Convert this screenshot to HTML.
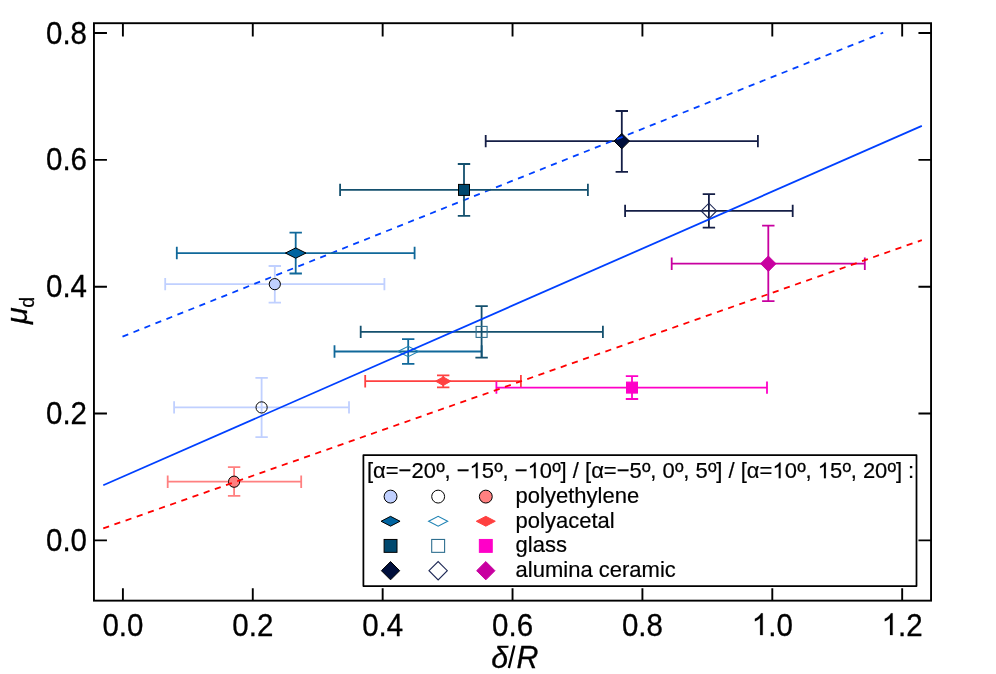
<!DOCTYPE html>
<html><head><meta charset="utf-8"><title>chart</title>
<style>
html,body{margin:0;padding:0;background:#fff;}
body{width:996px;height:674px;overflow:hidden;}
svg{display:block;transform:translateZ(0);will-change:transform;}
text{font-family:"Liberation Sans",sans-serif;fill:#000;}
.tk{font-size:29.5px;stroke:#000;stroke-width:0.3px;}
.lg{font-size:22.0px;stroke:#000;stroke-width:0.2px;}
.dg{font-size:16.4px;stroke-width:0.35px;}
.h1{fill:none;stroke:none;}
.ax{font-size:30.4px;font-style:italic;stroke:#000;stroke-width:0.3px;}
</style></head><body>
<svg width="996" height="674" viewBox="0 0 996 674">
<rect x="0" y="0" width="996" height="674" fill="#fff"/>

<path d="M165.2,284.15H384.4M274.8,266.0V302.6M165.2,277.95V290.34999999999997M384.4,277.95V290.34999999999997M268.6,266.0H281.0M268.6,302.6H281.0" stroke="#c0d0ff" stroke-width="1.8" fill="none"/><circle cx="274.8" cy="284.15" r="5.6" fill="#c0d0ff" stroke="#000000" stroke-width="1.0"/>
<path d="M485.7,141.1H757.9M621.8,111.0V171.8M485.7,134.9V147.29999999999998M757.9,134.9V147.29999999999998M615.5999999999999,111.0H628.0M615.5999999999999,171.8H628.0" stroke="#141e46" stroke-width="1.8" fill="none"/><polygon points="614.0999999999999,141.1 621.8,133.4 629.5,141.1 621.8,148.79999999999998" fill="#000f3c" stroke="#000000" stroke-width="1.0"/>
<line x1="122.5" y1="336.6" x2="883.2" y2="32.7" stroke="#0040ff" stroke-width="1.8" stroke-dasharray="6.2 5.63"/>
<path d="M176.8,253.05H414.6M295.7,232.7V273.5M176.8,246.85000000000002V259.25M414.6,246.85000000000002V259.25M289.5,232.7H301.9M289.5,273.5H301.9" stroke="#10689a" stroke-width="1.8" fill="none"/><polygon points="285.4,253.05 295.7,247.9 306.0,253.05 295.7,258.2" fill="#0064a0" stroke="#000000" stroke-width="1.0" stroke-linejoin="miter"/>
<path d="M340.1,189.9H587.9M464.0,164.0V215.8M340.1,183.70000000000002V196.1M587.9,183.70000000000002V196.1M457.8,164.0H470.2M457.8,215.8H470.2" stroke="#14506e" stroke-width="1.8" fill="none"/><rect x="458.5" y="184.4" width="11.0" height="11.0" fill="#00486e" stroke="#000000" stroke-width="1.0"/>
<path d="M174.1,407.4H349.0M261.6,377.9V437.1M174.1,401.2V413.59999999999997M349.0,401.2V413.59999999999997M255.40000000000003,377.9H267.8M255.40000000000003,437.1H267.8" stroke="#c0d0ff" stroke-width="1.8" fill="none"/><circle cx="261.6" cy="407.4" r="5.6" fill="none" stroke="#000000" stroke-width="1.0"/>
<path d="M334.5,351.5H481.7M408.2,339.2V363.8M334.5,345.3V357.7M481.7,345.3V357.7M402.0,339.2H414.4M402.0,363.8H414.4" stroke="#10689a" stroke-width="1.8" fill="none"/><polygon points="397.9,351.5 408.2,346.35 418.5,351.5 408.2,356.65" fill="none" stroke="#1e82b4" stroke-width="1.1" stroke-linejoin="miter"/>
<path d="M360.7,331.9H602.9M481.6,306.1V357.6M360.7,325.7V338.09999999999997M602.9,325.7V338.09999999999997M475.40000000000003,306.1H487.8M475.40000000000003,357.6H487.8" stroke="#14506e" stroke-width="1.8" fill="none"/><rect x="476.1" y="326.4" width="11.0" height="11.0" fill="none" stroke="#2f6f8f" stroke-width="1.1"/>
<path d="M625.1,210.9H792.7M708.9,194.2V227.6M625.1,204.70000000000002V217.1M792.7,204.70000000000002V217.1M702.6999999999999,194.2H715.1M702.6999999999999,227.6H715.1" stroke="#141e46" stroke-width="1.8" fill="none"/><polygon points="701.1999999999999,210.9 708.9,203.20000000000002 716.6,210.9 708.9,218.6" fill="none" stroke="#1e2855" stroke-width="1.1"/>
<line x1="103.25" y1="485.3" x2="921.85" y2="125.9" stroke="#0040ff" stroke-width="1.8"/>
<path d="M167.7,481.7H301.2M234.1,467.2V495.8M167.7,475.5V487.9M301.2,475.5V487.9M227.9,467.2H240.29999999999998M227.9,495.8H240.29999999999998" stroke="#ff8080" stroke-width="1.8" fill="none"/><circle cx="234.1" cy="481.7" r="5.6" fill="#ff8080" stroke="#000000" stroke-width="1.0"/>
<path d="M365.2,381.2H520.9M443.2,375.3V387.3M365.2,375.0V387.4M520.9,375.0V387.4M437.0,375.3H449.4M437.0,387.3H449.4" stroke="#ff4040" stroke-width="1.8" fill="none"/><polygon points="435.59999999999997,381.2 443.2,376.9 450.8,381.2 443.2,385.5" fill="#ff4040" stroke="#ff4040" stroke-width="1.0" stroke-linejoin="miter"/>
<path d="M496.4,387.6H767.0M632.0,376.15V399.0M496.4,381.40000000000003V393.8M767.0,381.40000000000003V393.8M625.8,376.15H638.2M625.8,399.0H638.2" stroke="#ff00c8" stroke-width="1.8" fill="none"/><rect x="626.5" y="382.1" width="11.0" height="11.0" fill="#ff00c8" stroke="#ff00c8" stroke-width="1.0"/>
<path d="M671.7,263.7H864.8M768.3,225.6V301.2M671.7,257.5V269.9M864.8,257.5V269.9M762.0999999999999,225.6H774.5M762.0999999999999,301.2H774.5" stroke="#c800a0" stroke-width="1.8" fill="none"/><polygon points="760.5999999999999,263.7 768.3,256.0 776.0,263.7 768.3,271.4" fill="#c800a0" stroke="#c800a0" stroke-width="1.0"/>
<line x1="103.25" y1="528.4" x2="921.85" y2="240.1" stroke="#ff0000" stroke-width="1.8" stroke-dasharray="6.2 5.63"/>
<rect x="93.95" y="23.2" width="837.0999999999999" height="577.4499999999999" fill="none" stroke="#000" stroke-width="1.9"/>
<path d="M122.90,600.65V588.35M122.90,23.2V36.4M252.78,600.65V588.35M252.78,23.2V36.4M382.66,600.65V588.35M382.66,23.2V36.4M512.54,600.65V588.35M512.54,23.2V36.4M642.42,600.65V588.35M642.42,23.2V36.4M772.30,600.65V588.35M772.30,23.2V36.4M902.18,600.65V588.35M902.18,23.2V36.4M93.95,540.40H106.95M931.05,540.40H918.4499999999999M93.95,413.55H106.95M931.05,413.55H918.4499999999999M93.95,286.70H106.95M931.05,286.70H918.4499999999999M93.95,159.85H106.95M931.05,159.85H918.4499999999999M93.95,33.00H106.95M931.05,33.00H918.4499999999999" stroke="#000" stroke-width="1.9" fill="none"/>
<text class="tk" transform="translate(122.90,635.60) scale(1,1.045)" text-anchor="middle">0.0</text>
<text class="tk" transform="translate(252.78,635.60) scale(1,1.045)" text-anchor="middle">0.2</text>
<text class="tk" transform="translate(382.66,635.60) scale(1,1.045)" text-anchor="middle">0.4</text>
<text class="tk" transform="translate(512.54,635.60) scale(1,1.045)" text-anchor="middle">0.6</text>
<text class="tk" transform="translate(642.42,635.60) scale(1,1.045)" text-anchor="middle">0.8</text>
<path d="M763 0H583V1147Q518 1085 412.5 1023Q307 961 223 930V1104Q374 1175 487 1276Q600 1377 647 1472H763Z" transform="translate(751.68,635.1) scale(0.014502,-0.01481)" fill="#000" stroke="#000" stroke-width="14"/>
<text class="tk" transform="translate(768.20,635.60) scale(1,1.045)" text-anchor="start">.0</text>
<path d="M763 0H583V1147Q518 1085 412.5 1023Q307 961 223 930V1104Q374 1175 487 1276Q600 1377 647 1472H763Z" transform="translate(881.56,635.1) scale(0.014502,-0.01481)" fill="#000" stroke="#000" stroke-width="14"/>
<text class="tk" transform="translate(898.08,635.60) scale(1,1.045)" text-anchor="start">.2</text>
<text class="tk" transform="translate(87.00,551.00) scale(1,1.045)" text-anchor="end">0.0</text>
<text class="tk" transform="translate(87.00,424.15) scale(1,1.045)" text-anchor="end">0.2</text>
<text class="tk" transform="translate(87.00,297.30) scale(1,1.045)" text-anchor="end">0.4</text>
<text class="tk" transform="translate(87.00,170.45) scale(1,1.045)" text-anchor="end">0.6</text>
<text class="tk" transform="translate(87.00,43.60) scale(1,1.045)" text-anchor="end">0.8</text>
<text class="ax" transform="translate(491.3,667.9) scale(1,0.9927)">δ</text>
<line x1="508.9" y1="668.1" x2="514.4" y2="645.6" stroke="#000" stroke-width="2.3"/>
<text class="ax" transform="translate(516.40,667.90) scale(1,1.045)" text-anchor="start">R</text>
<text class="ax" transform="translate(26.6,324.1) rotate(-90) scale(1,0.98)">μ</text>
<text class="ax" style="font-style:normal;font-size:19.6px" transform="translate(34.2,307.7) rotate(-90) scale(1,1.045)">d</text>
<rect x="363.4" y="455.05" width="553.1" height="131.05" fill="#fff" stroke="#000" stroke-width="1.75" stroke-linejoin="round"/>
<text class="lg" transform="translate(366.90,478.35) scale(1,1.045)" text-anchor="start">[α=−20<tspan class="dg" dy="-6.4">o</tspan><tspan dy="6.4" dx="-0.6">, −<tspan class="h1">1</tspan>5</tspan><tspan class="dg" dy="-6.4">o</tspan><tspan dy="6.4" dx="-0.6">, −<tspan class="h1">1</tspan>0</tspan><tspan class="dg" dy="-6.4">o</tspan><tspan dy="6.4" dx="-0.6">] / [α=−5</tspan><tspan class="dg" dy="-6.4">o</tspan><tspan dy="6.4" dx="-0.6">, 0</tspan><tspan class="dg" dy="-6.4">o</tspan><tspan dy="6.4" dx="-0.6">, 5</tspan><tspan class="dg" dy="-6.4">o</tspan><tspan dy="6.4" dx="-0.6">] / [α=<tspan class="h1">1</tspan>0</tspan><tspan class="dg" dy="-6.4">o</tspan><tspan dy="6.4" dx="-0.6">, <tspan class="h1">1</tspan>5</tspan><tspan class="dg" dy="-6.4">o</tspan><tspan dy="6.4" dx="-0.6">, 20</tspan><tspan class="dg" dy="-6.4">o</tspan><tspan dy="6.4" dx="-0.6">] :</tspan></text>
<path d="M763 0H583V1147Q518 1085 412.5 1023Q307 961 223 930V1104Q374 1175 487 1276Q600 1377 647 1472H763Z" transform="translate(469.51,478.2) scale(0.010742,-0.010742)" fill="#000" stroke="#000" stroke-width="12"/><path d="M763 0H583V1147Q518 1085 412.5 1023Q307 961 223 930V1104Q374 1175 487 1276Q600 1377 647 1472H763Z" transform="translate(527.60,478.2) scale(0.010742,-0.010742)" fill="#000" stroke="#000" stroke-width="12"/><path d="M763 0H583V1147Q518 1085 412.5 1023Q307 961 223 930V1104Q374 1175 487 1276Q600 1377 647 1472H763Z" transform="translate(772.45,478.2) scale(0.010742,-0.010742)" fill="#000" stroke="#000" stroke-width="12"/><path d="M763 0H583V1147Q518 1085 412.5 1023Q307 961 223 930V1104Q374 1175 487 1276Q600 1377 647 1472H763Z" transform="translate(817.68,478.2) scale(0.010742,-0.010742)" fill="#000" stroke="#000" stroke-width="12"/>
<circle cx="390.55" cy="496.6" r="6.45" fill="#c0d0ff" stroke="#000" stroke-width="1.0"/>
<circle cx="438.15" cy="496.6" r="6.45" fill="none" stroke="#000" stroke-width="1.0"/>
<circle cx="485.8" cy="496.6" r="6.45" fill="#ff8080" stroke="#000" stroke-width="1.0"/>
<text class="lg" transform="translate(515.60,503.30) scale(1,1.045)" text-anchor="start">polyethylene</text>
<polygon points="381.05,521.25 390.55,516.35 400.05,521.25 390.55,526.15" fill="#0064a0" stroke="#000" stroke-width="1.0" stroke-linejoin="miter"/>
<polygon points="428.65,521.25 438.15,516.35 447.65,521.25 438.15,526.15" fill="none" stroke="#1e82b4" stroke-width="1.1" stroke-linejoin="miter"/>
<polygon points="476.3,521.25 485.8,516.35 495.3,521.25 485.8,526.15" fill="#ff4040" stroke="#ff4040" stroke-width="1.0" stroke-linejoin="miter"/>
<text class="lg" transform="translate(515.60,527.75) scale(1,1.045)" text-anchor="start">polyacetal</text>
<rect x="384.1" y="539.4499999999999" width="12.9" height="12.9" fill="#00486e" stroke="#000" stroke-width="1.0"/>
<rect x="431.7" y="539.4499999999999" width="12.9" height="12.9" fill="none" stroke="#2f6f8f" stroke-width="1.1"/>
<rect x="479.35" y="539.4499999999999" width="12.9" height="12.9" fill="#ff00c8" stroke="#ff00c8" stroke-width="1.0"/>
<text class="lg" transform="translate(515.60,552.20) scale(1,1.045)" text-anchor="start">glass</text>
<polygon points="381.40000000000003,570.7 390.55,561.5500000000001 399.7,570.7 390.55,579.85" fill="#000f3c" stroke="#000" stroke-width="1.0"/>
<polygon points="429.0,570.7 438.15,561.5500000000001 447.29999999999995,570.7 438.15,579.85" fill="none" stroke="#1e2855" stroke-width="1.1"/>
<polygon points="476.65000000000003,570.7 485.8,561.5500000000001 494.95,570.7 485.8,579.85" fill="#c800a0" stroke="#c800a0" stroke-width="1.0"/>
<text class="lg" transform="translate(515.60,576.80) scale(1,1.045)" text-anchor="start">alumina ceramic</text>
</svg></body></html>
